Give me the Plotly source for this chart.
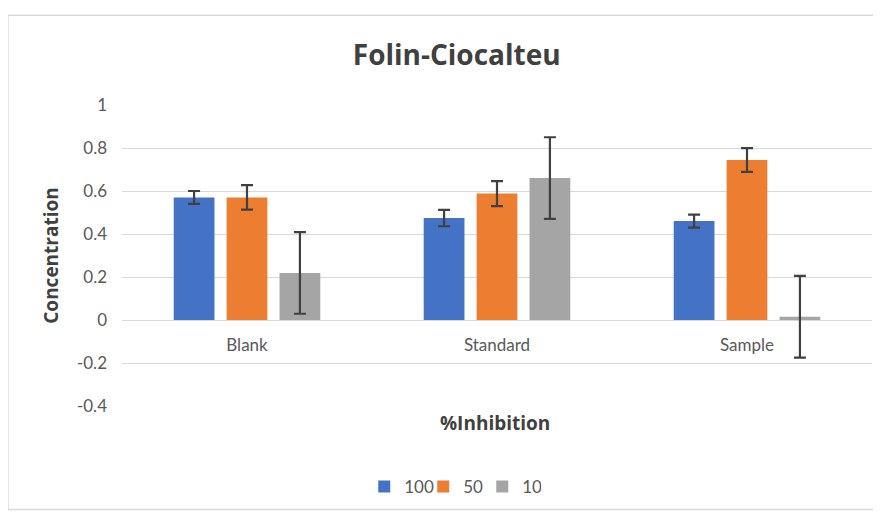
import plotly.graph_objects as go

categories = ["Blank", "Standard", "Sample"]
series_names = ["100", "50", "10"]
values_100 = [0.57, 0.474, 0.46]
values_50 = [0.57, 0.588, 0.744]
values_10 = [0.219, 0.66, 0.015]
err_100 = [0.03, 0.038, 0.03]
err_50 = [0.057, 0.058, 0.055]
err_10 = [0.19, 0.19, 0.19]
y_ticks = [-0.4, -0.2, 0, 0.2, 0.4, 0.6, 0.8, 1]
y_tick_labels = ["-0.4", "-0.2", "0", "0.2", "0.4", "0.6", "0.8", "1"]

colors = ["#4472C4", "#ED7D31", "#A5A5A5"]
FONT = "Lato, Open Sans, Liberation Sans, sans-serif"
TFONT = "Open Sans, Lato, Liberation Sans, sans-serif"

fig = go.Figure()
for name, vals, errs, col in zip(series_names, [values_100, values_50, values_10],
                                 [err_100, err_50, err_10], colors):
    fig.add_trace(go.Bar(
        x=categories, y=vals, name=name, marker=dict(color=col, line=dict(width=0)),
        error_y=dict(type="data", array=errs, visible=True, color="#404040",
                     thickness=2.2, width=6),
    ))

# page body adds an 8px offset; figure is sized to fill the remaining window
fig.update_layout(
    width=873, height=505,
    paper_bgcolor="white", plot_bgcolor="white",
    margin=dict(l=114, r=9, t=97, b=106),
    barmode="group", bargap=0.365, bargroupgap=0.23,
    font=dict(family=FONT, size=16, color="#595959"),
    title=dict(text="<b>Folin-Ciocalteu</b>", x=0.514, xanchor="center",
               y=0.907, yanchor="middle",
               font=dict(family=TFONT, size=28, color="#404040")),
    showlegend=True,
    legend=dict(orientation="h", x=0.323, xanchor="left", y=-0.265, yanchor="middle",
                font=dict(family=FONT, size=17, color="#595959"),
                itemwidth=30, entrywidth=14, traceorder="normal"),
    xaxis=dict(anchor="free", position=0.2857, showgrid=False, showline=False,
               ticks="", ticklabelstandoff=13, tickfont=dict(size=17, color="#595959"),
               zeroline=False),
    yaxis=dict(range=[-0.4, 1], tickvals=y_ticks, ticktext=y_tick_labels,
               showgrid=True, gridcolor="#D9D9D9", gridwidth=1.3, zeroline=True,
               zerolinecolor="#D9D9D9", zerolinewidth=1.3, ticks="", ticklabelstandoff=14,
               tickfont=dict(size=17, color="#595959"),
               title=dict(text="<b>Concentration</b>", standoff=13,
                          font=dict(family=TFONT, size=19, color="#404040"))),
    shapes=[dict(type="rect", xref="paper", yref="paper", x0=-0.152, x1=1.03,
                 y0=-0.344, y1=1.298, line=dict(color="#D9D9D9", width=1.5),
                 fillcolor="rgba(0,0,0,0)", layer="below")],
    annotations=[dict(text="<b>%Inhibition</b>", xref="paper", yref="paper",
                      x=0.497, y=-0.056, xanchor="center", yanchor="middle",
                      showarrow=False, font=dict(family=TFONT, size=19, color="#404040"))],
)

fig.write_html("out.html")
